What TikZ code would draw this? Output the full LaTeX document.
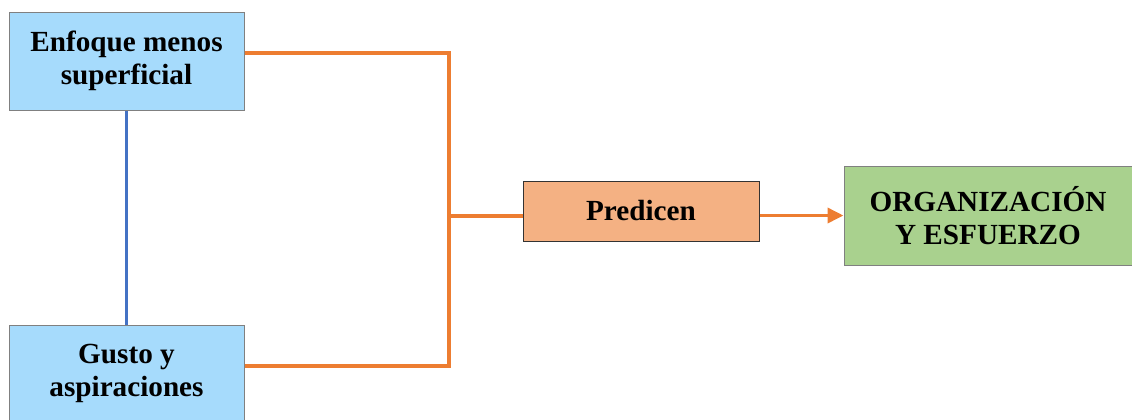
\documentclass[tikz,border=0pt]{standalone}
\usepackage{fontspec}
\setmainfont{Liberation Serif}
\usetikzlibrary{arrows.meta}
\definecolor{boxblue}{HTML}{A6DBFC}
\definecolor{boxorange}{HTML}{F4B183}
\definecolor{boxgreen}{HTML}{A9D18E}
\definecolor{lineorange}{HTML}{ED7D31}
\definecolor{lineblue}{HTML}{4472C4}
\begin{document}
\begin{tikzpicture}[x=0.5pt, y=-0.5pt,
  factor/.style={draw=gray, line width=0.5pt, fill=boxblue, align=center, font=\fontsize{14.6}{16.8}\selectfont\bfseries, minimum width=117.5pt, minimum height=49pt, inner sep=0pt},
  link/.style={draw=lineorange, line width=1.8pt}]
\useasboundingbox (0,0) rectangle (1132,419);
\node[factor] (enfoque) at (126.5,61) {Enfoque menos\\ superficial};
\node[factor, minimum height=48.5pt] (gusto) at (126.5,373.5) {Gusto y\\ aspiraciones};
\node[draw=black!80, line width=0.5pt, fill=boxorange, font=\fontsize{14.6}{16.8}\selectfont\bfseries, minimum width=118pt, minimum height=30pt, inner sep=0pt] (predicen) at (641,211) {Predicen};
\node[draw=gray, line width=0.5pt, fill=boxgreen, align=center, font=\fontsize{14.6}{16.8}\selectfont\bfseries, minimum width=144pt, minimum height=49.5pt, inner sep=0pt] (organizacion) at (988,215.5) {ORGANIZACIÓN\\ Y ESFUERZO};
\coordinate (top) at (449,53);
\coordinate (split) at (449,216);
\coordinate (bottom) at (449,366);
\draw[draw=lineblue, line width=1.8pt] (enfoque.south) -- (gusto.north);
\draw[link] (enfoque.east |- top) -- (top) -- (bottom) -- (gusto.east |- bottom);
\draw[link] (split) -- (split -| predicen.west);
\draw[link, -{Triangle[length=8pt, width=7.5pt]}] (predicen.east |- organizacion.west) -- (organizacion.west);
\end{tikzpicture}
\end{document}
